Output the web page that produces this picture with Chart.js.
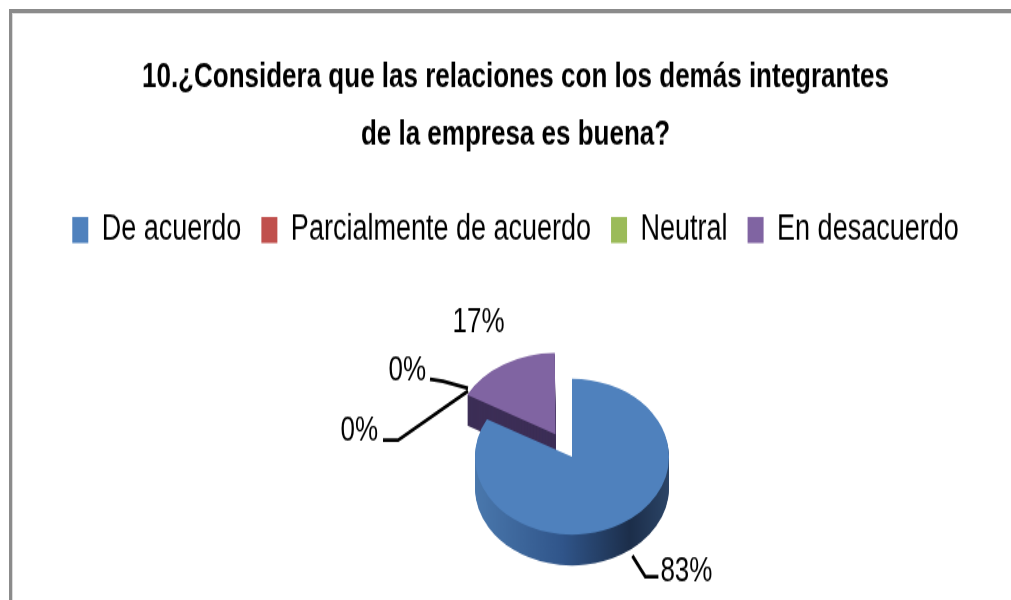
<!DOCTYPE html>
<html>
<head>
<meta charset="utf-8">
<script src="https://cdn.jsdelivr.net/npm/chart.js@4.4.0/dist/chart.umd.min.js"></script>
<style>
    html, body { margin: 0; padding: 0; background: #fff; overflow: hidden; }
    #wrap { position: relative; width: 1011px; height: 600px; }
    #chart { position: absolute; left: 0; top: 0; }
    #frame {
        position: absolute; left: 9px; top: 9px; width: 1100px; height: 700px;
        border-top: 4px solid #8b8b8b; border-left: 3px solid #8b8b8b;
        box-shadow: inset 1px 1px 0 #dcdcdc; pointer-events: none;
    }
</style>
</head>
<body>
<div id="wrap">
    <!-- drawn 448 tall and stretched to 600, like the tall narrow original -->
    <canvas id="chart" width="1011" height="448" style="width:1011px;height:600px"></canvas>
    <div id="frame"></div>
</div>
<script>
const categories = ['De acuerdo', 'Parcialmente de acuerdo', 'Neutral', 'En desacuerdo'];
const values = [83, 0, 0, 17];
const titleLines = ['10.¿Considera que las relaciones con los demás integrantes', 'de la empresa es buena?'];

const faceColors = ['#4F81BD', '#C0504D', '#9BBB59', '#8064A2'];
const sideColors = [null, '#6b2b29', '#3f4b22', '#3c2e56'];

const STRETCH = 600 / 448;
const TILT = 0.6;
const DEPTH = 23;
const PIE_CENTER = { x: 572, y: 341 };

// label placement relative to the slice edge (screen pixels)
const labelLayout = [
    { text: [39, 58], align: 'left', leader: [[11, 32], [24, 53], [37, 53]] },
    { text: [-109, 22], align: 'right', leader: [[-19, -28], [-89, 21], [-104, 21]] },
    { text: [-61, -39], align: 'right', leader: [[-19, -31], [-44, -38], [-57, -40]] },
    { text: [-44, -57], align: 'center', leader: null },
];

Chart.defaults.font.family = '"Liberation Sans", Arial, sans-serif';
Chart.defaults.color = '#000';

function applyPieTransform(ctx, first) {
    ctx.translate(PIE_CENTER.x, PIE_CENTER.y);
    ctx.scale(1, TILT);
    ctx.translate(-first.x, -first.y);
}

const pie3d = {
    id: 'pie3d',
    beforeDatasetsDraw(chart) {
        const ctx = chart.ctx;
        const meta = chart.getDatasetMeta(0);
        const first = meta.data[0];
        ctx.save();
        applyPieTransform(ctx, first);
        const r = first.outerRadius;
        const blueSide = ctx.createLinearGradient(first.x - r, 0, first.x + r, 0);
        blueSide.addColorStop(0, '#4a78ad');
        blueSide.addColorStop(0.45, '#30558a');
        blueSide.addColorStop(0.8, '#1c2e4a');
        blueSide.addColorStop(1, '#2b4466');
        for (let d = DEPTH; d >= 1; d--) {
            ctx.save();
            ctx.translate(0, d / TILT);
            meta.data.forEach((arc, i) => {
                const ghost = Object.create(arc);
                ghost.options = Object.assign({}, arc.options, {
                    backgroundColor: i === 0 ? blueSide : sideColors[i],
                    borderWidth: 0,
                });
                ghost.draw(ctx);
            });
            ctx.restore();
        }
    },
    afterDatasetsDraw(chart) {
        chart.ctx.restore();
    },
};

const sliceLabels = {
    id: 'sliceLabels',
    afterDraw(chart) {
        const ctx = chart.ctx;
        const meta = chart.getDatasetMeta(0);
        const first = meta.data[0];
        ctx.save();
        ctx.font = '26px "Liberation Sans", Arial, sans-serif';
        ctx.fillStyle = '#000';
        ctx.strokeStyle = '#000';
        ctx.lineWidth = 2.8;
        meta.data.forEach((arc, i) => {
            const mid = (arc.startAngle + arc.endAngle) / 2;
            const ax = PIE_CENTER.x + (arc.x - first.x) + Math.cos(mid) * arc.outerRadius;
            const ay = PIE_CENTER.y + TILT * ((arc.y - first.y) + Math.sin(mid) * arc.outerRadius);
            const lay = labelLayout[i];
            if (lay.leader) {
                ctx.beginPath();
                lay.leader.forEach(([dx, dy], j) => {
                    const px = ax + dx;
                    const py = ay + dy / STRETCH;
                    if (j) ctx.lineTo(px, py); else ctx.moveTo(px, py);
                });
                ctx.stroke();
            }
            ctx.textAlign = lay.align;
            ctx.textBaseline = 'alphabetic';
            ctx.fillText(`${values[i]}%`, ax + lay.text[0], ay + lay.text[1] / STRETCH);
        });
        ctx.restore();
    },
};

new Chart(document.getElementById('chart'), {
    type: 'pie',
    data: {
        labels: categories,
        datasets: [{
            data: values,
            backgroundColor: faceColors,
            borderWidth: 0,
            offset: [0, 130, 130, 130],
            radius: 97,
            clip: false,
        }],
    },
    options: {
        responsive: false,
        animation: false,
        events: [],
        layout: { padding: { left: 20 } },
        plugins: {
            title: {
                display: true,
                text: titleLines,
                color: '#000',
                font: { size: 26, weight: 'bold', lineHeight: 1.64 },
                padding: { top: 37, bottom: 16 },
            },
            legend: {
                position: 'top',
                labels: {
                    boxWidth: 16,
                    boxHeight: 19.5,
                    padding: 20,
                    color: '#000',
                    font: { size: 27 },
                },
            },
            tooltip: { enabled: false },
        },
    },
    plugins: [pie3d, sliceLabels],
});
</script>
</body>
</html>
